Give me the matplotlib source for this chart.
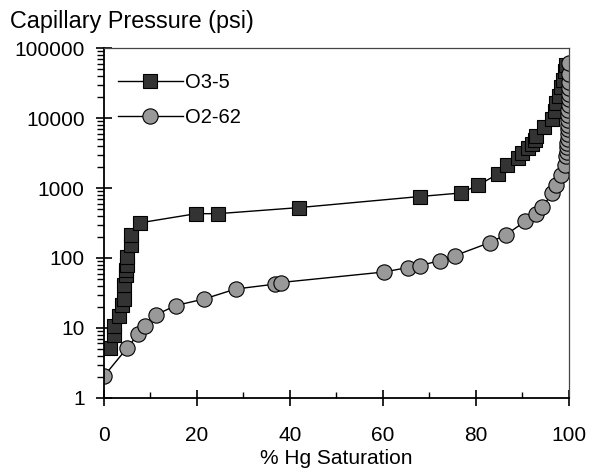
import numpy as np
import matplotlib
matplotlib.use("Agg")
import matplotlib.pyplot as plt
from matplotlib.ticker import LogLocator, FixedLocator, NullFormatter

plt.rcParams['font.family'] = ['Liberation Sans', 'DejaVu Sans']

# O3-5 sample (squares)
sat_o35 = [1.3, 2.2, 2.2, 3.3, 3.9, 4.3, 4.2, 4.7, 4.8, 4.9, 5.0, 5.7, 5.9, 7.7,
           19.8, 24.5, 41.9, 68.0, 76.8, 80.4, 84.8, 86.8, 89.0, 90.0, 91.3,
           92.2, 92.7, 93.0, 94.7, 96.3, 97.0, 97.3, 97.9, 98.4, 98.7, 99.1, 99.5]
pc_o35 = [5.2, 8, 10.5, 15, 21, 26, 41, 57, 68, 80, 105, 155, 210, 318,
          430, 430, 525, 757, 850, 1090, 1590, 2150, 2690, 3170, 3730,
          4300, 4900, 5500, 7400, 9700, 12500, 16500, 20500, 28000, 35500, 47000, 58000]

# O2-62 sample (circles)
sat_o262 = [0.0, 4.9, 7.4, 8.8, 11.2, 15.4, 21.6, 28.3, 36.8, 38.0,
            60.2, 65.4, 68.0, 72.4, 75.5, 83.0, 86.5, 90.6, 92.9, 94.3,
            96.5, 97.3, 98.4, 99.3, 99.5, 99.6, 99.7, 99.7, 99.8, 99.8,
            99.8, 99.9, 99.9, 99.9, 99.9, 100.0, 100.0, 100.0, 100.0, 100.0, 100.0, 100.0]
pc_o262 = [2.05, 5.1, 8.2, 10.8, 15.4, 20.9, 26, 36, 42.3, 44.6,
           63, 73, 78, 92, 108, 166, 215, 333, 430, 535,
           850, 1090, 1560, 2150, 2830, 3300, 3800, 4400, 5100, 5900,
           6900, 8000, 9400, 11000, 13000, 15500, 18500, 22000, 27000, 33000, 42000, 62000]

fig = plt.figure(figsize=(5.92, 4.72), dpi=100)
ax = fig.add_axes([0.1757, 0.157, 0.785, 0.741])

ax.plot(sat_o35, pc_o35, color='black', lw=1.0, marker='s', ms=9.5,
        mfc='#333333', mec='black', mew=0.8, label='O3-5')
ax.plot(sat_o262, pc_o262, color='black', lw=1.0, marker='o', ms=11,
        mfc='#999999', mec='black', mew=0.8, label='O2-62')

ax.set_yscale('log')
ax.set_xlim(0, 100)
ax.set_ylim(1, 100000)

ax.xaxis.set_major_locator(FixedLocator([0, 20, 40, 60, 80, 100]))
ax.xaxis.set_minor_locator(FixedLocator([10, 30, 50, 70, 90]))
ax.yaxis.set_major_locator(FixedLocator([1, 10, 100, 1000, 10000, 100000]))
ax.yaxis.set_major_formatter(plt.FuncFormatter(lambda v, p: '%d' % v))
ax.yaxis.set_minor_locator(LogLocator(base=10, subs=np.arange(2, 10)))
ax.yaxis.set_minor_formatter(NullFormatter())

ax.tick_params(axis='x', which='major', direction='inout', length=12, width=1.2,
               labelsize=15, pad=14)
ax.tick_params(axis='x', which='minor', direction='in', length=4.5, width=1.0)
ax.tick_params(axis='y', which='major', direction='inout', length=12, width=1.2,
               labelsize=15, pad=8)
ax.tick_params(axis='y', which='minor', direction='out', length=5, width=1.0)

for s in ['left', 'bottom']:
    ax.spines[s].set_linewidth(1.3)
for s in ['top', 'right']:
    ax.spines[s].set_linewidth(0.9)
    ax.spines[s].set_color('#444444')

ax.set_xlabel('% Hg Saturation', fontsize=15, labelpad=3)
fig.text(0.017, 0.955, 'Capillary Pressure (psi)', fontsize=16.8, va='center', ha='left')

ax.legend(loc='upper left', frameon=False, fontsize=14.5, handlelength=3.2,
          handletextpad=0.1, labelspacing=0.8, bbox_to_anchor=(0.0, 0.97),
          borderaxespad=0.3)

fig.savefig('out.png', dpi=100)
